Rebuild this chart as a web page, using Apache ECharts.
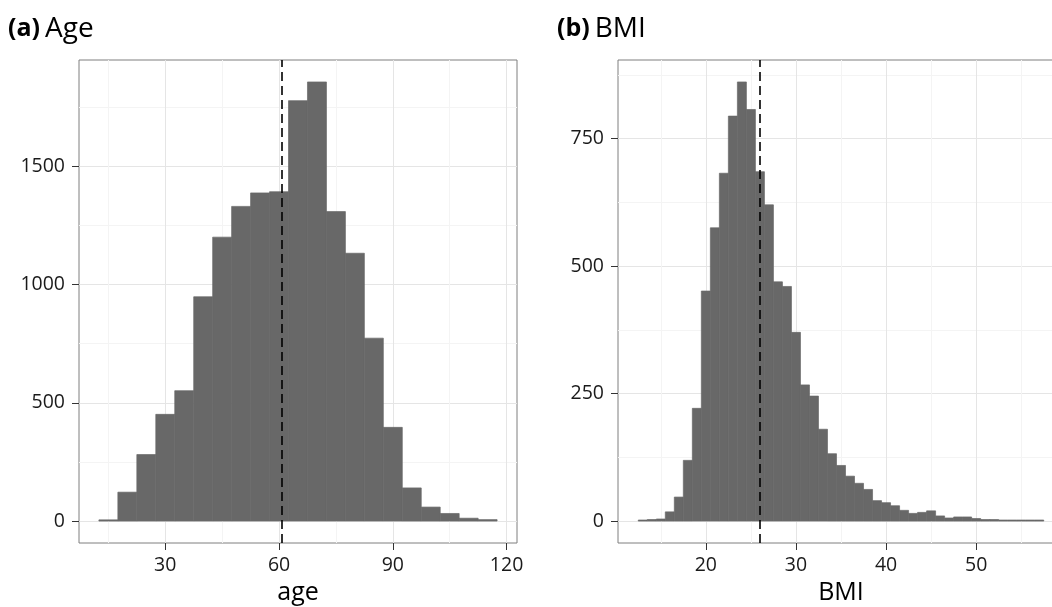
<!DOCTYPE html>
<html><head><meta charset="utf-8">
<script src="https://cdn.jsdelivr.net/npm/echarts@6/dist/echarts.min.js"></script>
<style>html,body{margin:0;padding:0;background:#fff}#c{width:1052px;height:607px}</style>
</head><body><div id="c"></div>
<script>
// ---- Age histogram ----
const ageBinStarts = [12.5,17.5,22.5,27.5,32.5,37.5,42.5,47.5,52.5,57.5,62.5,67.5,72.5,77.5,82.5,87.5,92.5,97.5,102.5,107.5,112.5];
const ageBinEnds   = [17.5,22.5,27.5,32.5,37.5,42.5,47.5,52.5,57.5,62.5,67.5,72.5,77.5,82.5,87.5,92.5,97.5,102.5,107.5,112.5,117.5];
const ageCounts    = [5,122,281,451,551,948,1200,1330,1387,1392,1777,1856,1308,1132,773,396,140,59,32,12,6];
const ageMean = 60.6;
const ageXTicks = [30,60,90,120];
const ageXMinor = [15,45,75,105];
const ageYTicks = [0,500,1000,1500];
const ageYMinor = [250,750,1250,1750];
const ageXRange = [7.25,122.75];
const ageYRange = [-92.8,1948.8];

// ---- BMI histogram ----
const bmiBinStarts = [12.5,13.5,14.5,15.5,16.5,17.5,18.5,19.5,20.5,21.5,22.5,23.5,24.5,25.5,26.5,27.5,28.5,29.5,30.5,31.5,32.5,33.5,34.5,35.5,36.5,37.5,38.5,39.5,40.5,41.5,42.5,43.5,44.5,45.5,46.5,47.5,48.5,49.5,50.5,51.5,52.5,53.5,54.5,55.5,56.5];
const bmiBinEnds   = [13.5,14.5,15.5,16.5,17.5,18.5,19.5,20.5,21.5,22.5,23.5,24.5,25.5,26.5,27.5,28.5,29.5,30.5,31.5,32.5,33.5,34.5,35.5,36.5,37.5,38.5,39.5,40.5,41.5,42.5,43.5,44.5,45.5,46.5,47.5,48.5,49.5,50.5,51.5,52.5,53.5,54.5,55.5,56.5,57.5];
const bmiCounts    = [2,3,4,18,47,119,221,451,575,682,794,861,807,685,620,469,460,370,267,245,180,132,109,88,74,62,40,36,30,21,15,17,20,10,6,8,8,5,3,3,2,2,2,2,2];
const bmiMean = 26.0;
const bmiXTicks = [20,30,40,50];
const bmiXMinor = [15,25,35,45,55];
const bmiYTicks = [0,250,500,750];
const bmiYMinor = [125,375,625,875];
const bmiXRange = [10.25,59.75];
const bmiYRange = [-43.05,904.05];

const FONT = 'Open Sans';
const BAR = '#686868';

function rows(starts, ends, counts){ return starts.map((s,i)=>[s, ends[i], counts[i]]); }

function histItem(params, api){
  const p0 = api.coord([api.value(0), 0]);
  const p1 = api.coord([api.value(1), api.value(2)]);
  return {type:'rect', shape:{x:p0[0], y:p1[1], width:p1[0]-p0[0], height:p0[1]-p1[1]},
    style:{fill:BAR, stroke:BAR, lineWidth:0.7}};
}
const plain = v => String(v);

function mainX(grid, range, ticks, name){
  return {type:'value', gridIndex:grid, min:range[0], max:range[1], name:name, nameLocation:'middle', nameGap:37,
    nameTextStyle:{fontFamily:FONT, fontSize:25, color:'#000'},
    axisLine:{show:false, onZero:false},
    axisTick:{show:true, length:7, lineStyle:{color:'#333', width:1}, customValues:ticks},
    axisLabel:{show:true, margin:12, fontFamily:FONT, fontSize:19.5, color:'#1a1a1a', customValues:ticks, formatter:plain},
    splitLine:{show:true, lineStyle:{color:'#e5e5e5', width:1}}};
}
function minorX(grid, range, ticks){
  return {type:'value', gridIndex:grid, min:range[0], max:range[1],
    axisLine:{show:false, onZero:false}, axisTick:{show:false, customValues:ticks}, axisLabel:{show:false, customValues:ticks},
    splitLine:{show:true, lineStyle:{color:'#f4f4f4', width:1}}};
}
function mainY(grid, range, ticks){
  return {type:'value', gridIndex:grid, min:range[0], max:range[1],
    axisLine:{show:false, onZero:false},
    axisTick:{show:true, length:7, lineStyle:{color:'#333', width:1}, customValues:ticks},
    axisLabel:{show:true, margin:14, fontFamily:FONT, fontSize:19.5, color:'#1a1a1a', customValues:ticks, formatter:plain},
    splitLine:{show:true, lineStyle:{color:'#e5e5e5', width:1}}};
}
function minorY(grid, range, ticks){
  return {type:'value', gridIndex:grid, min:range[0], max:range[1],
    axisLine:{show:false, onZero:false}, axisTick:{show:false, customValues:ticks}, axisLabel:{show:false, customValues:ticks},
    splitLine:{show:true, lineStyle:{color:'#f4f4f4', width:1}}};
}
function meanLine(v){
  return {silent:true, symbol:['none','none'], label:{show:false},
    lineStyle:{color:'#000', type:[9,5], width:1.6}, data:[{xAxis:v}]};
}

const chart = echarts.init(document.getElementById('c'), null, {renderer:'canvas'});
chart.setOption({
  animation:false,
  backgroundColor:'#fff',
  title:[
    {left:3, top:10, text:'{b|(a)} {n|Age}', textStyle:{fontWeight:'normal', rich:{
      b:{fontFamily:FONT, fontWeight:'bold', fontSize:25, color:'#000'},
      n:{fontFamily:FONT, fontWeight:'normal', fontSize:28, color:'#000'}}}},
    {left:552, top:10, text:'{b|(b)} {n|BMI}', textStyle:{fontWeight:'normal', rich:{
      b:{fontFamily:FONT, fontWeight:'bold', fontSize:25, color:'#000'},
      n:{fontFamily:FONT, fontWeight:'normal', fontSize:28, color:'#000'}}}}
  ],
  grid:[
    {left:79, width:438, top:60, height:483, show:true, borderColor:'#7f7f7f', borderWidth:1, backgroundColor:'#fff', outerBoundsMode:'none', containLabel:false},
    {left:618, width:446, top:60, height:483, show:true, borderColor:'#7f7f7f', borderWidth:1, backgroundColor:'#fff', outerBoundsMode:'none', containLabel:false}
  ],
  xAxis:[
    mainX(0, ageXRange, ageXTicks, 'age'),
    mainX(1, bmiXRange, bmiXTicks, 'BMI'),
    minorX(0, ageXRange, ageXMinor),
    minorX(1, bmiXRange, bmiXMinor)
  ],
  yAxis:[
    mainY(0, ageYRange, ageYTicks),
    mainY(1, bmiYRange, bmiYTicks),
    minorY(0, ageYRange, ageYMinor),
    minorY(1, bmiYRange, bmiYMinor)
  ],
  series:[
    {type:'custom', xAxisIndex:0, yAxisIndex:0, renderItem:histItem, encode:{x:[0,1], y:2},
      data:rows(ageBinStarts, ageBinEnds, ageCounts), markLine:meanLine(ageMean)},
    {type:'custom', xAxisIndex:1, yAxisIndex:1, renderItem:histItem, encode:{x:[0,1], y:2},
      data:rows(bmiBinStarts, bmiBinEnds, bmiCounts), markLine:meanLine(bmiMean)}
  ]
});
</script>
</body></html>
